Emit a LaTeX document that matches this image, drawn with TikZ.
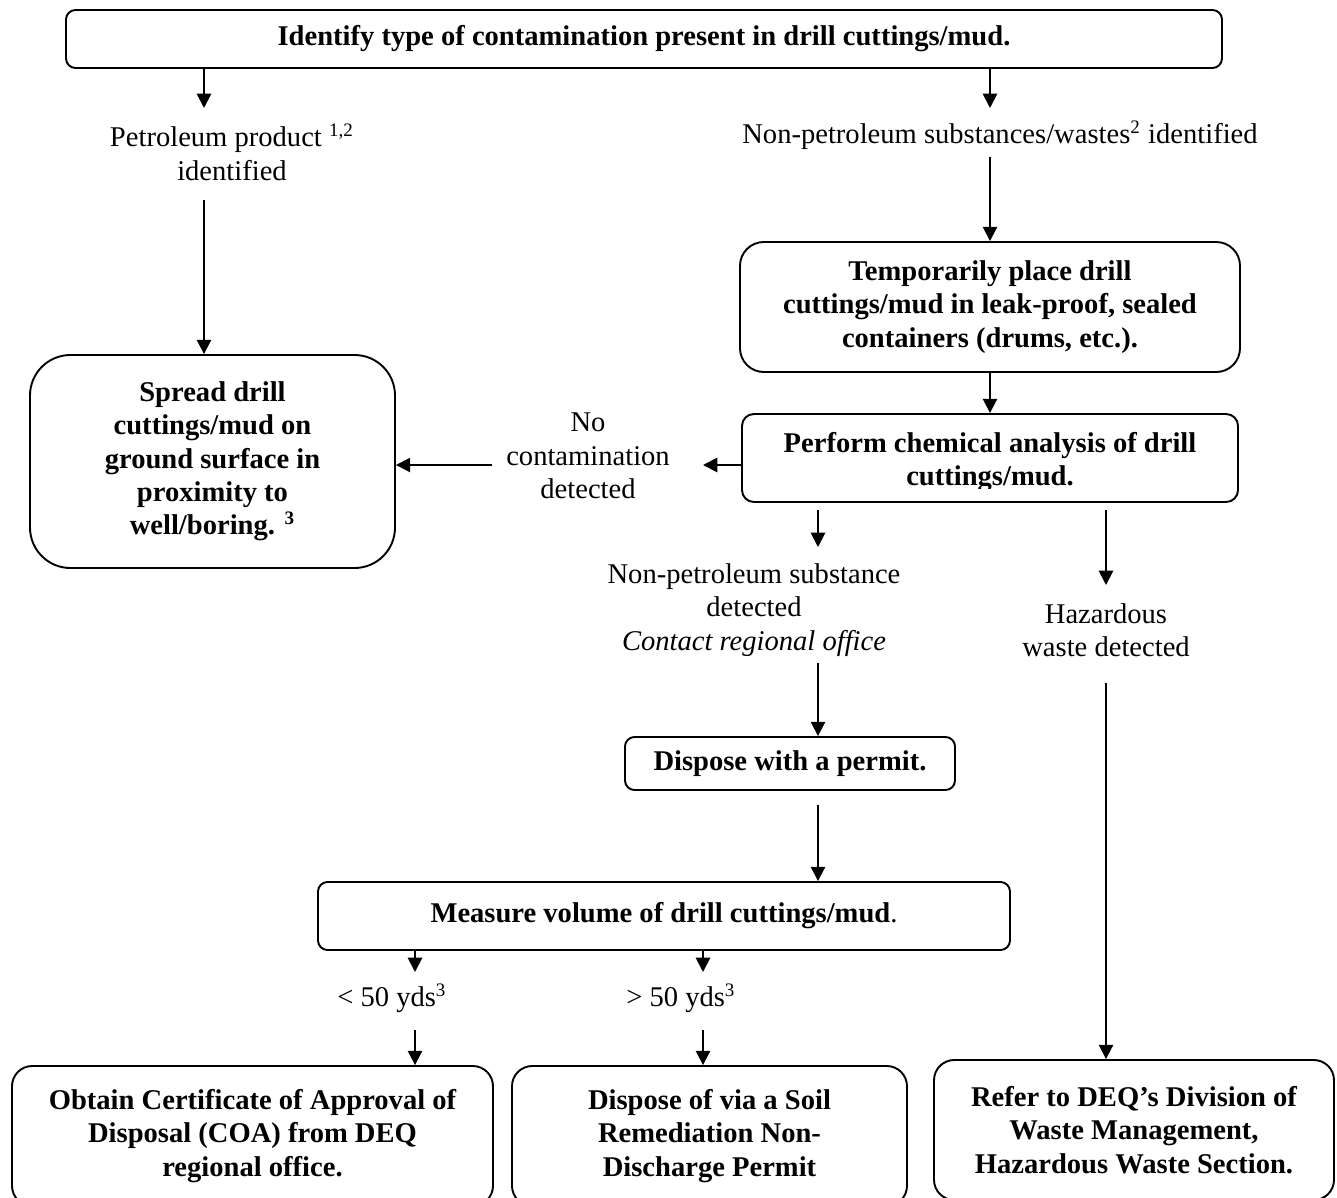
\documentclass[tikz,border=0pt]{standalone}
\usepackage{fontspec}
\setmainfont{Liberation Serif}
\usetikzlibrary{arrows.meta}
\begin{document}
\begin{tikzpicture}[x=0.42pt, y=-0.42pt, line width=0.8pt,
  box/.style={draw, rounded corners=#1, align=center, inner sep=0pt,
    font=\fontsize{12}{14}\selectfont\bfseries},
  box/.default=4pt,
  sz/.style 2 args={minimum width=#1*0.42pt, minimum height=#2*0.42pt},
  lbl/.style={align=center, inner sep=0pt, font=\fontsize{12}{14}\selectfont},
  btxt/.style={lbl, font=\fontsize{12}{14}\selectfont\bfseries},
  arr/.style={-{Triangle[length=6pt, width=6pt]}}]
  \useasboundingbox (0,0) rectangle (1337,1197);
  % boxes and labels
  \node[box, sz={1156}{58}] (top) at (644,39) {Identify type of contamination present in drill cuttings/mud.};
  \node[lbl] (petrol) at (232,152) {Petroleum product \textsuperscript{1,2}\\identified};
  \node[lbl] (nonpet) at (1000,135) {Non-petroleum substances/wastes\textsuperscript{2} identified};
  \node[box=10pt, sz={500}{130}] (temp) at (990,307) {Temporarily place drill\\cuttings/mud in leak-proof, sealed\\containers (drums, etc.).};
  \node[box=5pt, sz={496}{88}] (perform) at (990,458) {};
  \begin{scope}
    \clip (perform.north west) rectangle ([yshift=6pt]perform.south east);
    \node[btxt] (performtxt) at (990,462) {Perform chemical analysis of drill\\cuttings/mud.};
  \end{scope}
  \node[box=17pt, sz={365}{213}] (spread) at (212.5,461.5) {Spread drill\\cuttings/mud on\\ground surface in\\proximity to\\well/boring. \textsuperscript{3}};
  \node[lbl] (nocont) at (588,456) {No\\contamination\\detected};
  \node[lbl] (nonsub) at (754,610) {Non-petroleum substance\\detected\\\textit{Contact regional office}};
  \node[lbl] (hazard) at (1106,630) {Hazardous\\waste detected};
  \node[box, sz={330}{53}] (permit) at (790,763.5) {Dispose with a permit.};
  \node[box, sz={692}{68}] (measure) at (664,916) {Measure volume of drill cuttings/mud\textmd{.}};
  \node[lbl] (lt) at (392,998) {< 50 yds\textsuperscript{3}};
  \node[lbl] (gt) at (681,998) {> 50 yds\textsuperscript{3}};
  \node[box=8.5pt, sz={481}{140}] (coa) at (252.5,1136) {Obtain Certificate of Approval of\\Disposal (COA) from DEQ\\regional office.};
  \node[box=8.5pt, sz={395}{140}] (soil) at (709.5,1136) {Dispose of via a Soil\\Remediation Non-\\Discharge Permit};
  \node[box=8.5pt, sz={400}{140}] (dwm) at (1134,1130) {Refer to DEQ’s Division of\\Waste Management,\\Hazardous Waste Section.};
  % arrow ends
  \coordinate (a1) at (204,108);
  \coordinate (a2) at (990,108);
  \coordinate (b1) at (204,200);
  \coordinate (b2) at (990,157);
  \coordinate (ncr) at (703,465);
  \coordinate (ncl) at (492,465);
  \coordinate (c1) at (818,510);
  \coordinate (c2) at (818,547);
  \coordinate (d1) at (1106,510);
  \coordinate (d2) at (1106,585);
  \coordinate (e1) at (818,663);
  \coordinate (f1) at (818,805);
  \coordinate (g1) at (415,972);
  \coordinate (g2) at (703,972);
  \coordinate (h1) at (415,1030);
  \coordinate (h2) at (703,1030);
  \coordinate (k1) at (1106,683);
  % connectors
  \draw[arr] (top.south -| a1) -- (a1);
  \draw[arr] (top.south -| a2) -- (a2);
  \draw[arr] (b1) -- (b1 |- spread.north);
  \draw[arr] (b2) -- (temp.north);
  \draw[arr] (temp.south) -- (perform.north);
  \draw[arr] (perform.west |- ncr) -- (ncr);
  \draw[arr] (ncl) -- (ncl -| spread.east);
  \draw[arr] (c1) -- (c2);
  \draw[arr] (d1) -- (d2);
  \draw[arr] (e1) -- (e1 |- permit.north);
  \draw[arr] (f1) -- (f1 |- measure.north);
  \draw[arr] (measure.south -| g1) -- (g1);
  \draw[arr] (measure.south -| g2) -- (g2);
  \draw[arr] (h1) -- (h1 |- coa.north);
  \draw[arr] (h2) -- (h2 |- soil.north);
  \draw[arr] (k1) -- (k1 |- dwm.north);
\end{tikzpicture}
\end{document}
